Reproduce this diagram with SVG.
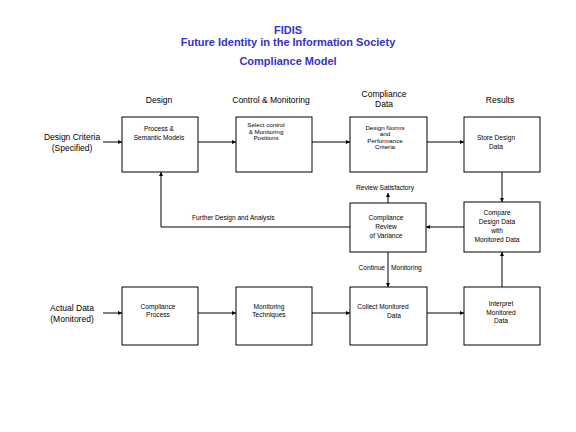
<svg xmlns="http://www.w3.org/2000/svg" width="576" height="432" viewBox="0 0 576 432">
<style>
.title{font-family:"Liberation Sans",Arial,sans-serif;font-weight:bold;font-size:11px;fill:#3333cc;text-anchor:middle}
.hdr{font-family:"Liberation Sans",Arial,sans-serif;font-size:8.5px;fill:#000;text-anchor:middle}
.lbl{font-family:"Liberation Sans",Arial,sans-serif;font-size:8.5px;fill:#000;text-anchor:middle}
.bx{font-family:"Liberation Sans",Arial,sans-serif;font-size:6.6px;fill:#000;text-anchor:middle}
.sm{font-size:6.2px}
.el{font-family:"Liberation Sans",Arial,sans-serif;font-size:6.6px;fill:#000}
rect{fill:#fff;stroke:#000;stroke-width:1}
.c{fill:none;stroke:#000;stroke-width:1}
</style>
<defs>
<marker id="ah" viewBox="0 0 6 6" refX="6" refY="3" markerWidth="4" markerHeight="4" orient="auto" markerUnits="userSpaceOnUse">
<path d="M0,0 L6,3 L0,6 z" fill="#000"/>
</marker>
</defs>
<rect x="0" y="0" width="576" height="432" style="fill:#fff;stroke:none"/>
<g id="title">
<text class="title" x="288" y="34">FIDIS</text>
<text class="title" x="288" y="46">Future Identity in the Information Society</text>
<text class="title" x="288" y="65">Compliance Model</text>
</g>
<g id="headers">
<text class="hdr" x="159" y="103">Design</text>
<text class="hdr" x="271" y="103">Control &amp; Monitoring</text>
<text class="hdr" x="384" y="97">Compliance</text>
<text class="hdr" x="384" y="107">Data</text>
<text class="hdr" x="500" y="103">Results</text>
</g>
<g id="inputs">
<text class="lbl" x="72" y="140">Design Criteria</text>
<text class="lbl" x="72" y="151">(Specified)</text>
<text class="lbl" x="72" y="311">Actual Data</text>
<text class="lbl" x="72" y="322">(Monitored)</text>
</g>
<g id="connectors">
<line class="c" x1="103" y1="142" x2="122" y2="142" marker-end="url(#ah)"/>
<line class="c" x1="198" y1="142" x2="236" y2="142" marker-end="url(#ah)"/>
<line class="c" x1="312" y1="142" x2="350" y2="142" marker-end="url(#ah)"/>
<line class="c" x1="427" y1="142" x2="464" y2="142" marker-end="url(#ah)"/>
<line class="c" x1="502" y1="172" x2="502" y2="202" marker-end="url(#ah)"/>
<line class="c" x1="464" y1="227" x2="426" y2="227" marker-end="url(#ah)"/>
<polyline class="c" points="350,227 161,227 161,172" marker-end="url(#ah)"/>
<line class="c" x1="388" y1="203" x2="388" y2="193" marker-end="url(#ah)"/>
<line class="c" x1="388" y1="252" x2="388" y2="287" marker-end="url(#ah)"/>
<line class="c" x1="103" y1="313" x2="122" y2="313" marker-end="url(#ah)"/>
<line class="c" x1="198" y1="313" x2="236" y2="313" marker-end="url(#ah)"/>
<line class="c" x1="312" y1="313" x2="350" y2="313" marker-end="url(#ah)"/>
<line class="c" x1="427" y1="313" x2="464" y2="313" marker-end="url(#ah)"/>
<line class="c" x1="502" y1="287" x2="502" y2="252" marker-end="url(#ah)"/>
<text class="el" x="192" y="220">Further Design and Analysis</text>
<text class="el" x="385" y="190" text-anchor="middle">Review Satisfactory</text>
<text class="el" x="385" y="270" text-anchor="end">Continue</text>
<text class="el" x="391" y="270">Monitoring</text>
</g>
<g id="process">
<rect x="122" y="117" width="76" height="55"/>
<text class="bx" x="159" y="131">Process &amp;</text>
<text class="bx" x="159" y="140">Semantic Models</text>
</g>
<g id="select">
<rect x="236" y="117" width="76" height="55"/>
<text class="bx sm" x="266" y="127">Select control</text>
<text class="bx sm" x="266" y="133.5">&amp; Monitoring</text>
<text class="bx sm" x="266" y="140">Positions</text>
</g>
<g id="norms">
<rect x="350" y="117" width="77" height="55"/>
<text class="bx sm" x="385" y="130">Design Norms</text>
<text class="bx sm" x="385" y="136.3">and</text>
<text class="bx sm" x="385" y="142.6">Performance</text>
<text class="bx sm" x="385" y="149">Criteria</text>
</g>
<g id="store">
<rect x="464" y="117" width="76" height="55"/>
<text class="bx" x="496" y="140">Store Design</text>
<text class="bx" x="496" y="149">Data</text>
</g>
<g id="review">
<rect x="350" y="203" width="76" height="49"/>
<text class="bx" x="386" y="220">Compliance</text>
<text class="bx" x="386" y="229">Review</text>
<text class="bx" x="386" y="238">of Variance</text>
</g>
<g id="compare">
<rect x="464" y="202" width="76" height="50"/>
<text class="bx" x="497" y="215">Compare</text>
<text class="bx" x="497" y="224">Design Data</text>
<text class="bx" x="497" y="233">with</text>
<text class="bx" x="497" y="242">Monitored Data</text>
</g>
<g id="cprocess">
<rect x="122" y="287" width="76" height="58"/>
<text class="bx" x="158" y="309">Compliance</text>
<text class="bx" x="158" y="317">Process</text>
</g>
<g id="techniques">
<rect x="236" y="287" width="76" height="58"/>
<text class="bx" x="269" y="309">Monitoring</text>
<text class="bx" x="269" y="317">Techniques</text>
</g>
<g id="collect">
<rect x="350" y="287" width="77" height="58"/>
<text class="bx" x="383" y="309">Collect Monitored</text>
<text class="bx" x="394" y="318">Data</text>
</g>
<g id="interpret">
<rect x="464" y="287" width="76" height="58"/>
<text class="bx" x="501" y="306">Interpret</text>
<text class="bx" x="501" y="315">Monitored</text>
<text class="bx" x="501" y="323">Data</text>
</g>
</svg>
